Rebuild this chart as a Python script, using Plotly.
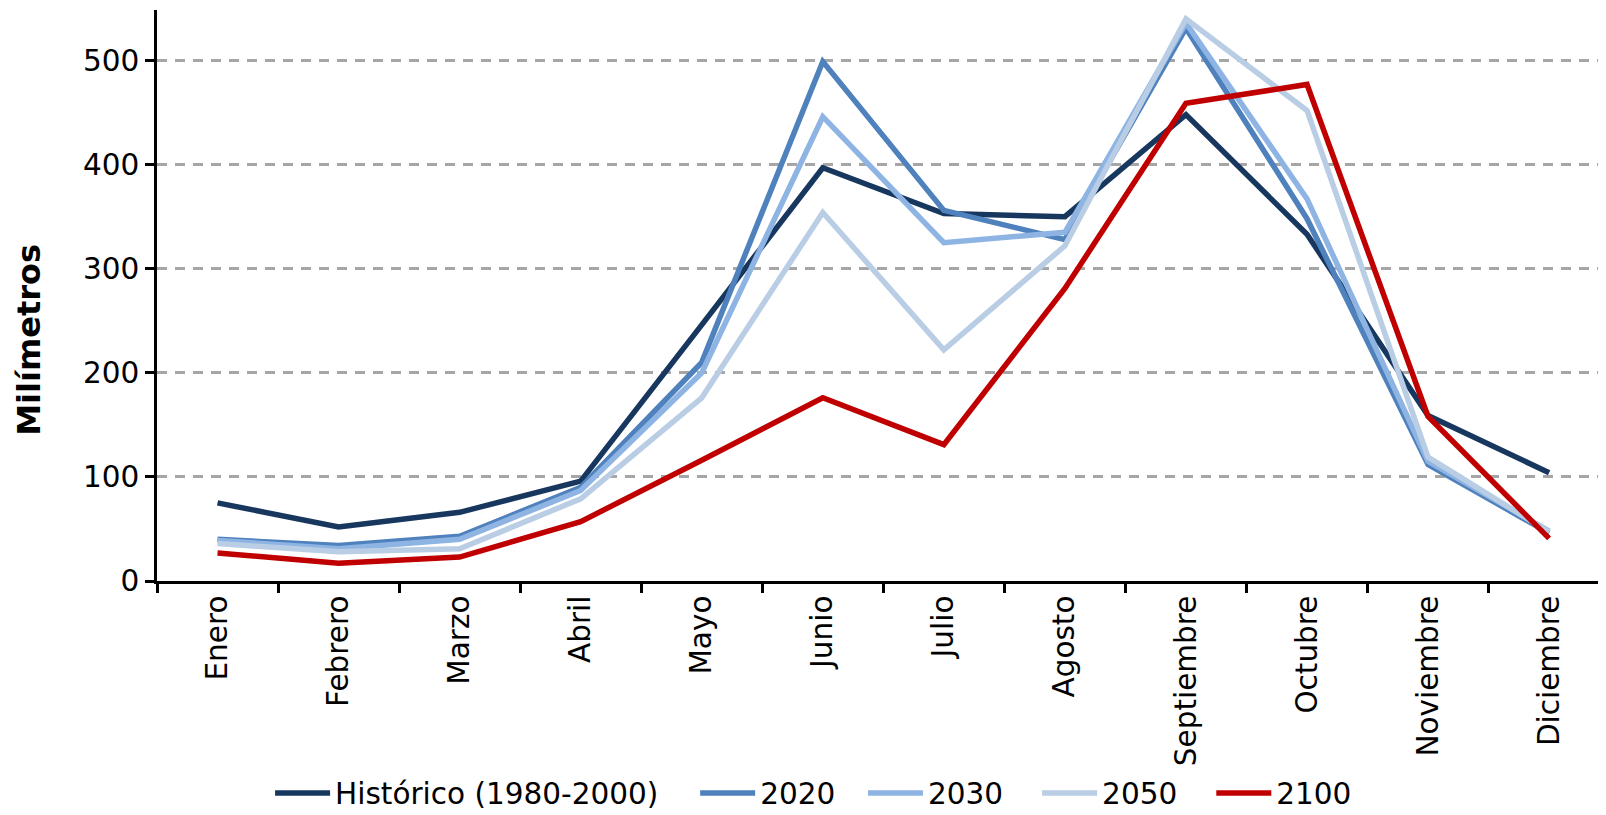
import plotly.graph_objects as go

months = ["Enero", "Febrero", "Marzo", "Abril", "Mayo", "Junio", "Julio",
          "Agosto", "Septiembre", "Octubre", "Noviembre", "Diciembre"]
historico = [75, 52, 66, 96, 246, 397, 353, 350, 448, 333, 159, 104]
s2020 = [40, 34, 43, 90, 210, 499, 356, 328, 531, 348, 112, 46]
s2030 = [39, 31, 40, 87, 200, 446, 325, 335, 536, 367, 115, 48]
s2050 = [36, 28, 31, 79, 176, 354, 222, 322, 540, 452, 119, 47]
s2100 = [27, 17, 23, 57, 116, 176, 131, 281, 459, 477, 158, 41]
y_ticks = [0, 100, 200, 300, 400, 500]

series = [
    ("Histórico (1980-2000)", historico, "#17375E"),
    ("2020", s2020, "#4F81BD"),
    ("2030", s2030, "#8EB4E3"),
    ("2050", s2050, "#B9CDE5"),
    ("2100", s2100, "#C00000"),
]
# horizontal position (fraction of figure width) of each legend entry
legend_x = [0.164, 0.430, 0.535, 0.644, 0.753]

font = "DejaVu Sans, Verdana, sans-serif"
fig = go.Figure()
legends = {}
for i, (name, vals, col) in enumerate(series):
    key = "legend" if i == 0 else f"legend{i + 1}"
    fig.add_trace(go.Scatter(x=months, y=vals, name=name, mode="lines",
                             line=dict(color=col, width=5.5), legend=key))
    legends[key] = dict(orientation="h", xref="container", yref="container",
                        x=legend_x[i], xanchor="left", y=0.027,
                        yanchor="middle", font=dict(size=29.5),
                        itemwidth=55, bgcolor="rgba(0,0,0,0)")

# page body has an 8px margin, so the figure is sized to fit the window
fig.update_layout(
    width=1598, height=807,
    margin=dict(l=149, r=0, t=2, b=234),
    paper_bgcolor="white", plot_bgcolor="white",
    font=dict(family=font, size=29, color="black"),
    showlegend=True,
    xaxis=dict(type="category", range=[-0.5, 11.47], tickangle=-90,
               showline=True, linecolor="black", linewidth=2.5,
               ticks="outside", ticklen=9, tickwidth=2.5, tickcolor="black",
               tickson="boundaries", showgrid=False,
               tickfont=dict(size=29.5)),
    yaxis=dict(range=[0, 548.5], tickvals=y_ticks,
               showline=True, linecolor="black", linewidth=2.5,
               ticks="outside", ticklen=9, tickwidth=2.5, tickcolor="black",
               showgrid=True, gridcolor="#A6A6A6", gridwidth=3,
               griddash="10px,8px", zeroline=False,
               tickfont=dict(size=29.5)),
    annotations=[dict(text="<b>Milímetros</b>", textangle=-90,
                      xref="paper", yref="paper", x=-0.0885, y=0.422,
                      xanchor="center", yanchor="middle", showarrow=False,
                      font=dict(size=32))],
)
fig.update_layout(**legends)

fig.write_html("out.html")
